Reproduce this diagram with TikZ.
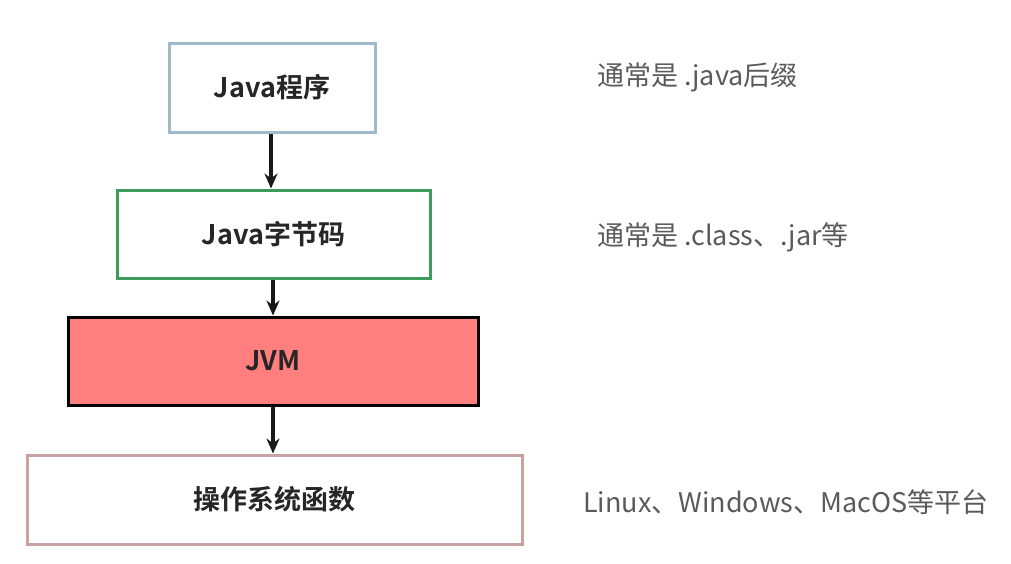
\documentclass[tikz,border=0pt]{standalone}
\usepackage{fontspec}
\setmainfont{Noto Sans CJK SC}
\newfontfamily\cjkb{Noto Sans CJK SC Bold}
\usetikzlibrary{arrows.meta}
\definecolor{bluegray}{HTML}{9DBBCB}
\definecolor{boxgreen}{HTML}{3E9B5E}
\definecolor{jvmred}{HTML}{FF7F7F}
\definecolor{pinkgray}{HTML}{C9A3A3}
\definecolor{notegray}{HTML}{5A5A5A}
\tikzset{
  box/.style={draw, line width=3pt, inner sep=0pt, font=\cjkb\fontsize{27}{31}\selectfont, text=black!85},
  note/.style={anchor=west, inner sep=0pt, font=\fontsize{27}{31}\selectfont, text=notegray},
  conn/.style={-{Stealth[length=15pt,width=13pt]}, line width=3.6pt, black!90}
}
\begin{document}
\begin{tikzpicture}[x=1pt,y=-1pt]
\useasboundingbox (0,0) rectangle (1011,563);
\node[box, draw=bluegray, minimum width=206pt, minimum height=89pt] (prog) at (272,87.5) {Java程序};
\node[box, draw=boxgreen, minimum width=313pt, minimum height=88pt] (byte) at (273.5,234) {Java字节码};
\node[box, draw=black, fill=jvmred, minimum width=410pt, minimum height=88pt] (jvm) at (273,361) {JVM};
\node[box, draw=pinkgray, minimum width=495pt, minimum height=89pt] (os) at (274.5,499.5) {操作系统函数};
\node[note] (n1) at (597,77) {通常是 .java后缀};
\node[note] (n2) at (597,237) {通常是 .class、.jar等};
\node[note] (n3) at (583,502) {Linux、Windows、MacOS等平台};
\draw[conn] (prog.south -| 271,0) -- (byte.north -| 271,0);
\draw[conn] (byte.south -| 273,0) -- (jvm.north -| 273,0);
\draw[conn] (jvm.south -| 273,0) -- (os.north -| 273,0);
\end{tikzpicture}
\end{document}
